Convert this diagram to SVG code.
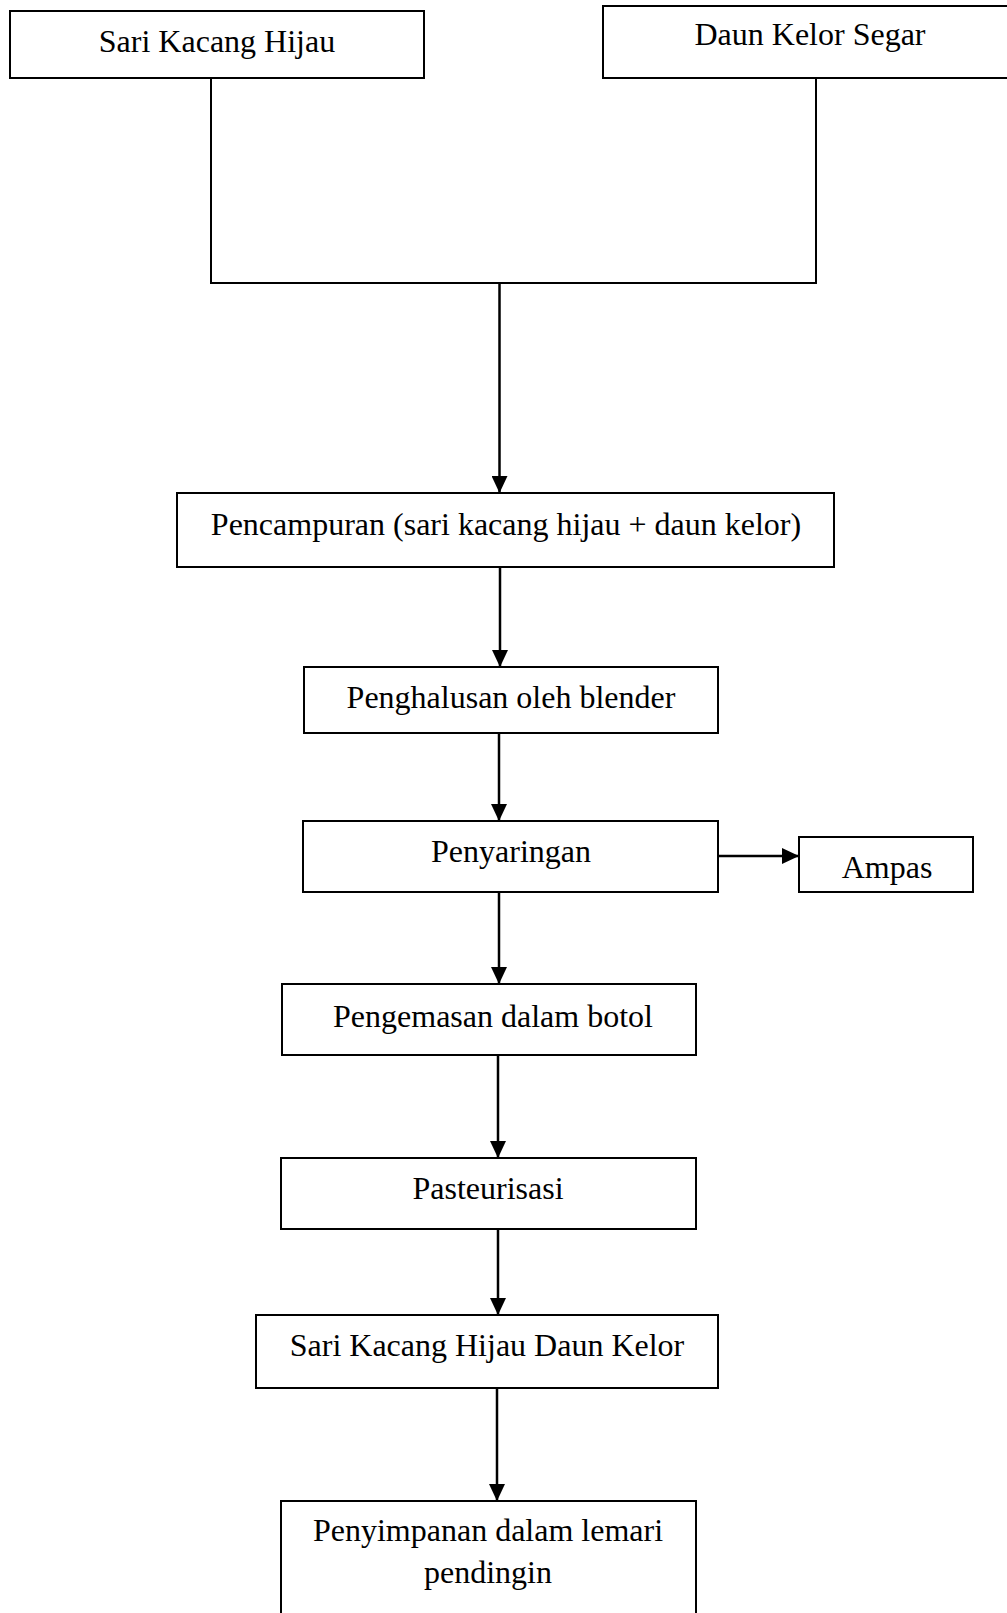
<svg xmlns="http://www.w3.org/2000/svg" width="1007" height="1613" viewBox="0 0 1007 1613">
<style>
.box{fill:#fff;stroke:#000;stroke-width:2}
.t{font-family:"Liberation Serif","Times New Roman",serif;font-size:32px;fill:#000;text-anchor:middle}
.c{fill:none;stroke:#000;stroke-width:2.5}
.w{fill:none;stroke:#000;stroke-width:2}
</style>
<defs>
<marker id="ah" markerUnits="userSpaceOnUse" markerWidth="17" markerHeight="16" refX="17" refY="8" orient="auto">
<path d="M0,0 L17,8 L0,16 z" fill="#000"/>
</marker>
</defs>
<rect width="1007" height="1613" fill="#fff"/>
<g id="connectors">
<path class="w" d="M211,78 V283 H816 V78"/>
<line class="c" x1="499.5" y1="283" x2="499.5" y2="493" marker-end="url(#ah)"/>
<line class="c" x1="500" y1="567" x2="500" y2="667" marker-end="url(#ah)"/>
<line class="c" x1="499" y1="733" x2="499" y2="821" marker-end="url(#ah)"/>
<line class="c" x1="718" y1="856" x2="799" y2="856" marker-end="url(#ah)"/>
<line class="c" x1="499" y1="892" x2="499" y2="984" marker-end="url(#ah)"/>
<line class="c" x1="498" y1="1055" x2="498" y2="1158" marker-end="url(#ah)"/>
<line class="c" x1="498" y1="1229" x2="498" y2="1315" marker-end="url(#ah)"/>
<line class="c" x1="497" y1="1388" x2="497" y2="1501" marker-end="url(#ah)"/>
</g>
<g id="n1"><rect class="box" x="10" y="11" width="414" height="67"/><text class="t" x="217" y="52">Sari Kacang Hijau</text></g>
<g id="n2"><rect class="box" x="603" y="6" width="420" height="72"/><text class="t" x="810" y="45">Daun Kelor Segar</text></g>
<g id="n3"><rect class="box" x="177" y="493" width="657" height="74"/><text class="t" x="506" y="535">Pencampuran (sari kacang hijau + daun kelor)</text></g>
<g id="n4"><rect class="box" x="304" y="667" width="414" height="66"/><text class="t" x="511" y="708">Penghalusan oleh blender</text></g>
<g id="n5"><rect class="box" x="303" y="821" width="415" height="71"/><text class="t" x="511" y="862">Penyaringan</text></g>
<g id="n6"><rect class="box" x="799" y="837" width="174" height="55"/><text class="t" x="887" y="878">Ampas</text></g>
<g id="n7"><rect class="box" x="282" y="984" width="414" height="71"/><text class="t" x="493" y="1027">Pengemasan dalam botol</text></g>
<g id="n8"><rect class="box" x="281" y="1158" width="415" height="71"/><text class="t" x="488" y="1199">Pasteurisasi</text></g>
<g id="n9"><rect class="box" x="256" y="1315" width="462" height="73"/><text class="t" x="487" y="1356">Sari Kacang Hijau Daun Kelor</text></g>
<g id="n10"><rect class="box" x="281" y="1501" width="415" height="130"/><text class="t" x="488" y="1541">Penyimpanan dalam lemari</text><text class="t" x="488" y="1583">pendingin</text></g>
</svg>
